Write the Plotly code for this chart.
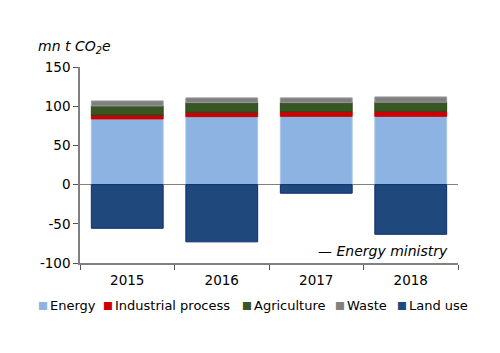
import plotly.graph_objects as go

years = ["2015", "2016", "2017", "2018"]
energy = [83.8, 86.7, 87.1, 87.1]
industrial = [5.0, 5.5, 6.0, 6.5]
agriculture = [11.5, 12.4, 11.5, 11.5]
waste = [6.4, 6.0, 6.0, 6.7]
land_use = [-55.7, -73.0, -11.0, -63.4]
y_ticks = [150, 100, 50, 0, -50, -100]
y_ticklabels = ["150", "100", "50", "0", "-50", "-100"]

names = ["Energy", "Industrial process", "Agriculture", "Waste", "Land use"]
values = [energy, industrial, agriculture, waste, land_use]
colors = ["#8DB3E2", "#CC0000", "#375623", "#808080", "#1F497D"]
edge_colors = ["#A9C6EA", "#C00000", "#2A4A1A", "#999999", "#0F2D6B"]

fig = go.Figure()
for name, vals, col, lc in zip(names, values, colors, edge_colors):
    fig.add_trace(go.Bar(x=years, y=vals, name=name, showlegend=False,
                         marker=dict(color=col, line=dict(color=lc, width=1))))

L, R, T, B = 80, 42, 67, 90
W, H = 500, 353
pw, ph = W - L - R, H - T - B

def px(x):
    return (x - L) / pw

def py(y):
    return (H - B - y) / ph

annotations = [
    dict(text="<i>mn t CO<sub>2</sub>e</i>", xref="paper", yref="paper",
         x=px(36), y=py(47), xanchor="left", yanchor="middle", showarrow=False,
         font=dict(size=14)),
    dict(text="<i>— Energy ministry</i>", xref="paper", yref="paper",
         x=px(450), y=py(251), xanchor="right", yanchor="middle", showarrow=False,
         font=dict(size=14)),
]

# manual legend
sq_left = [37, 102, 241, 334, 396]
for name, col, sx in zip(names, colors, sq_left):
    annotations.append(dict(text=f'<span style="color:{col}">■</span>', xref="paper",
                            yref="paper", x=px(sx - 1), y=py(305), xanchor="left",
                            yanchor="middle", showarrow=False, font=dict(size=10.5)))
    annotations.append(dict(text=name, xref="paper", yref="paper", x=px(sx + 11),
                            y=py(305), xanchor="left", yanchor="middle",
                            showarrow=False, font=dict(size=13)))

fig.update_layout(
    barmode="relative",
    bargap=0.24,
    width=W, height=H,
    margin=dict(l=L, r=R, t=T, b=B),
    paper_bgcolor="white", plot_bgcolor="white",
    font=dict(family="DejaVu Sans", size=13, color="#000000"),
    showlegend=False,
    xaxis=dict(showline=True, linecolor="#808080", linewidth=1.5,
               ticks="outside", tickson="boundaries", ticklen=5, tickcolor="#555555",
               tickfont=dict(size=13.5), ticklabelstandoff=4),
    yaxis=dict(range=[-100, 150], tickvals=y_ticks, ticktext=y_ticklabels,
               showgrid=False, showline=True,
               linecolor="#808080", linewidth=1.5, ticks="outside", ticklen=5,
               tickcolor="#555555", zeroline=True, zerolinecolor="#7F7F7F",
               zerolinewidth=1, tickfont=dict(size=13.5)),
    annotations=annotations,
)
fig.write_html("out.html")
